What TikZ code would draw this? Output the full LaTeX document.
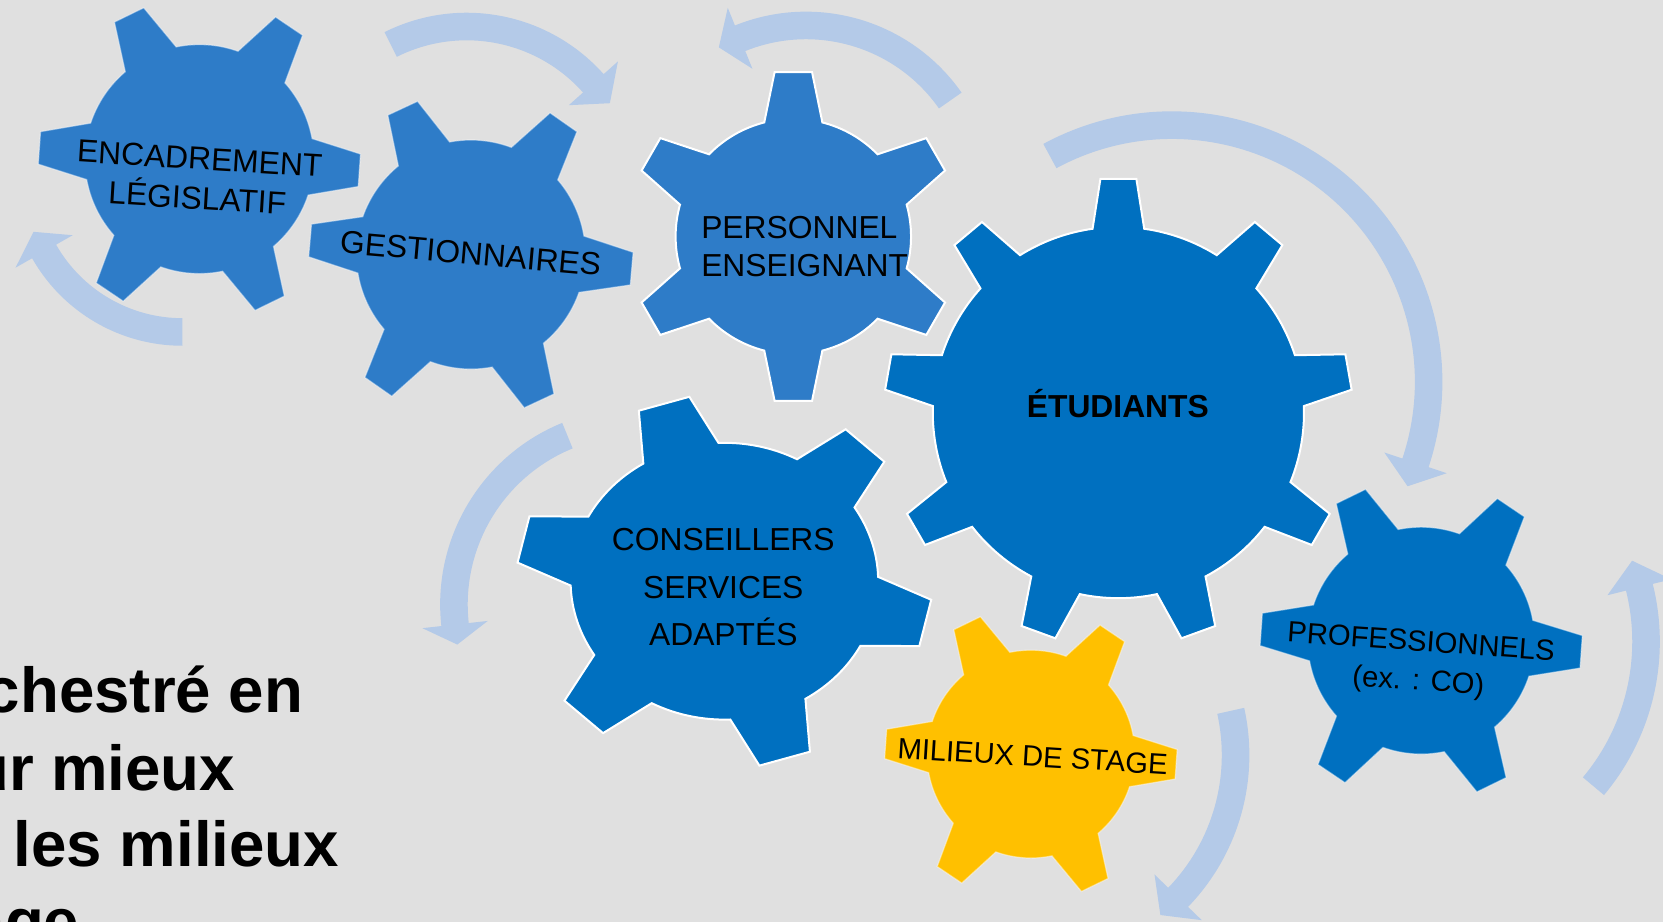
\documentclass[tikz,border=0pt]{standalone}
\usepackage{fontspec}
\setmainfont{Liberation Sans}
\definecolor{bg}{HTML}{E0E0E0}
\definecolor{gearA}{HTML}{2E7CC8}
\definecolor{gearB}{HTML}{0070C0}
\definecolor{gearY}{HTML}{FFC000}
\definecolor{arrowc}{HTML}{B4CAE8}
% #1 cx, #2 cy, #3 body radius, #4 tip radius, #5 teeth, #6 phase, #7 half base angle, #8 half tip angle, #9 style
\newcommand\gearshape[9]{%
  \begin{scope}[shift={(#1,#2)}]
    \pgfmathsetmacro\gstep{360/#5}
    \path[#9] ({#6-#7}:{#3}) \foreach \k in {1,...,#5}{
      -- ({#6+(\k-1)*\gstep-#8}:{#4}) -- ({#6+(\k-1)*\gstep+#8}:{#4})
      -- ({#6+(\k-1)*\gstep+#7}:{#3})
      arc[start angle={#6+(\k-1)*\gstep+#7}, end angle={#6+\k*\gstep-#7}, radius={#3}]
    } -- cycle;
  \end{scope}}
% #1 cx, #2 cy, #3 radius, #4 tail angle, #5 head angle, #6 tip offset angle
\newcommand\circarrow[6]{%
  \begin{scope}[shift={(#1,#2)}]
    \fill[arrowc] ({#4}:{#3+13}) arc[start angle={#4}, end angle={#5}, radius={#3+13}]
      -- ({#5}:{#3+31}) -- ({#5+#6}:{#3+1}) -- ({#5}:{#3-31}) -- ({#5}:{#3-13})
      arc[start angle={#5}, end angle={#4}, radius={#3-13}] -- cycle;
  \end{scope}}
\tikzset{
  lbl/.style={inner sep=0pt, anchor=base, text=black, font=\fontsize{31.8}{39.8}\selectfont},
  lbls/.style={lbl, font=\fontsize{29.2}{39}\selectfont},
  bigtxt/.style={inner sep=0pt, anchor=base east, text=black, font=\fontsize{63.6}{77}\selectfont\bfseries},
  softedge/.style={draw=white, draw opacity=0.45, line width=1.2pt},
  hardedge/.style={draw=white, line width=2pt}
}
\begin{document}
\begin{tikzpicture}[x=1.06059pt, y=-1.06059pt]
\useasboundingbox (0,0) rectangle (1568,869.33);
\fill[bg] (0,0) rectangle (1568,869.33);
\clip (0,0) rectangle (1568,869.33);
% gears
\gearshape{188}{150}{108}{152}{6}{4}{14.3}{5.8}{fill=gearA, softedge}
\gearshape{444}{240}{108}{153}{6}{5}{14.3}{5.8}{fill=gearA, softedge}
\gearshape{748}{223}{111}{156}{6}{-90}{14.3}{6.5}{fill=gearA, hardedge}
\gearshape{1054.5}{389}{175}{221}{9}{-90}{8.0}{4.4}{fill=gearB, hardedge}
\gearshape{683}{548}{145}{196}{6}{13}{14.8}{7.3}{fill=gearB, hardedge, yscale=0.9}
\gearshape{972}{711}{98}{138}{6}{4}{14.3}{5.8}{fill=gearY, softedge}
\gearshape{1340}{604}{107}{152}{6}{4}{14.3}{5.8}{fill=gearB, softedge}
% circular arrows
\circarrow{440}{185}{160}{-116.6}{-41.7}{8.7}
\circarrow{760}{190}{166}{-35}{-112}{-7.5}
\circarrow{172}{163}{150}{90}{150.4}{8}
\circarrow{1105}{360}{242}{-118.4}{18.4}{5.5}
\circarrow{600}{570}{172}{-112.2}{-186.3}{-6.3}
\circarrow{972}{712}{193}{-12.5}{44}{7}
\circarrow{1340}{605}{212}{40}{-14}{-7}
% labels
\node[lbl, anchor=center, align=center, rotate=-3.5] (t1) at (187.2,168.2) {ENCADREMENT\\LÉGISLATIF};
\node[lbl, rotate=-5] (t2) at (442.9,249.2) {GESTIONNAIRES};
\node[lbl, anchor=base west] (t3a) at (661,225) {PERSONNEL};
\node[lbl, anchor=base west] (t3b) at (661,261) {ENSEIGNANT};
\node[lbl, font=\fontsize{31.8}{38}\selectfont\bfseries] (t4) at (1054,394) {ÉTUDIANTS};
\node[lbl] (t5a) at (682,518.6) {CONSEILLERS};
\node[lbl] (t5b) at (682,564.3) {SERVICES};
\node[lbl] (t5c) at (682,609) {ADAPTÉS};
\node[lbls, rotate=-3.5] (t6) at (973,722.6) {MILIEUX DE STAGE};
\node[lbls, anchor=center, align=center, rotate=-4] (t7) at (1338.5,625.6) {PROFESSIONNELS\\(ex. : CO)};
\node[bigtxt] (b1) at (286,672) {chestré en};
\node[bigtxt] (b2) at (222,745) {ur mieux};
\node[bigtxt] (b3) at (320,817) {les milieux};
\node[bigtxt] (b4) at (75,890) {age};
\end{tikzpicture}
\end{document}
